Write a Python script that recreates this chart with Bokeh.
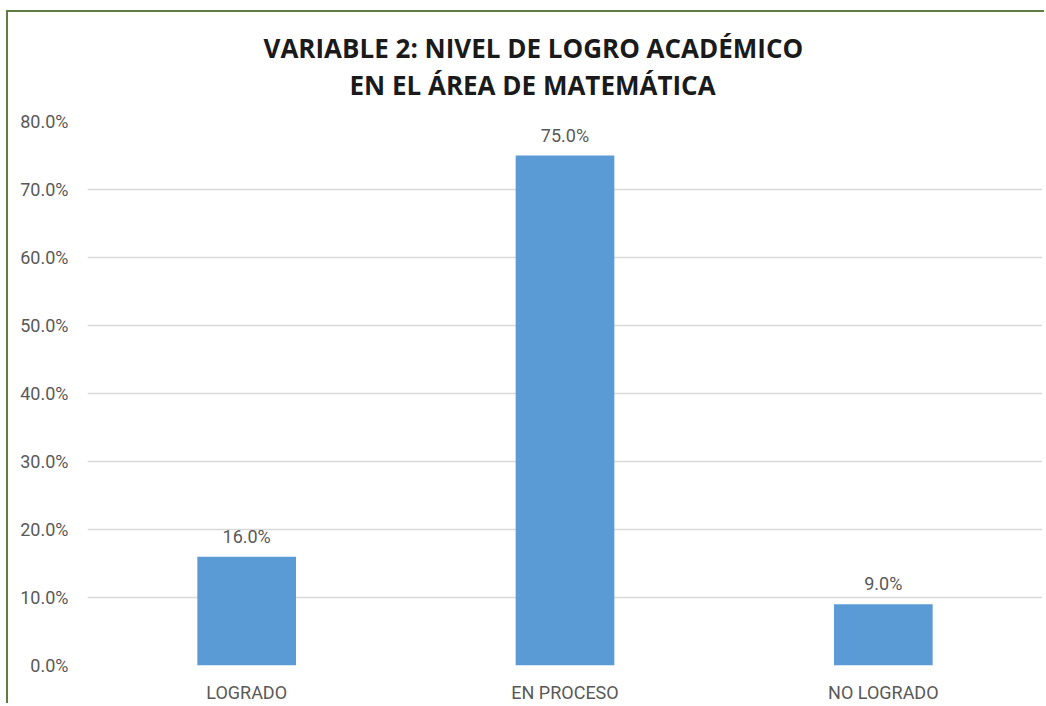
from bokeh.plotting import figure
from bokeh.models import ColumnDataSource, NumeralTickFormatter, FixedTicker, LabelSet, Range1d, Title
from bokeh.core.properties import value
from bokeh.embed import file_html
from bokeh.resources import INLINE

categories = ["LOGRADO", "EN PROCESO", "NO LOGRADO"]
values = [0.16, 0.75, 0.09]
labels = ["16.0%", "75.0%", "9.0%"]
y_ticks = [0.0, 0.1, 0.2, 0.3, 0.4, 0.5, 0.6, 0.7, 0.8]
title_lines = ["VARIABLE 2: NIVEL DE LOGRO ACADÉMICO", "EN EL ÁREA DE MATEMÁTICA"]

TEXT = "#595959"
FONT = "Roboto"

src = ColumnDataSource(dict(cat=categories, val=values, lab=labels))

p = figure(x_range=categories, y_range=Range1d(0, 0.8),
           width=1038, height=693, output_backend="svg", toolbar_location=None,
           title=title_lines[0],
           min_border_left=79, min_border_right=4, min_border_bottom=38, min_border_top=109)

p.styles = {"margin-top": "10px", "margin-left": "6px",
            "border-top": "2px solid #5e7d3f", "border-left": "2px solid #5e7d3f"}

def style_title(t):
    t.align = "left"
    t.text_font = "Open Sans"
    t.text_font_style = "bold"
    t.text_font_size = "26px"
    t.text_color = "#1a1a1a"

style_title(p.title)
p.title.offset = 176
p.title.standoff = -31
p.title.vertical_align = "bottom"
t2 = Title(text=title_lines[1])
style_title(t2)
t2.offset = 262
t2.standoff = 33
t2.vertical_align = "top"
p.add_layout(t2, "above")

p.vbar(x="cat", top="val", width=0.31, source=src, color="#5B9BD5", line_color=None)

p.add_layout(LabelSet(x="cat", y="val", text="lab", source=src, text_align="center",
                      text_baseline="bottom", y_offset=10, text_font=value(FONT),
                      text_font_size=value("18px"), text_color=TEXT))

p.yaxis.ticker = FixedTicker(ticks=y_ticks)
p.yaxis.formatter = NumeralTickFormatter(format="0.0%")
for ax in (p.xaxis, p.yaxis):
    ax.axis_line_color = None
    ax.major_tick_line_color = None
    ax.minor_tick_line_color = None
    ax.major_tick_out = 0
    ax.major_label_text_font = FONT
    ax.major_label_text_font_size = "18px"
    ax.major_label_text_color = TEXT
p.yaxis.major_label_standoff = 19
p.xaxis.major_label_standoff = 16

p.xgrid.grid_line_color = None
p.ygrid.grid_line_color = "#d9d9d9"
p.ygrid.grid_line_width = 1.5
p.outline_line_color = None
p.x_range.range_padding = 0.0

open("out.html", "w").write(file_html(p, INLINE))
